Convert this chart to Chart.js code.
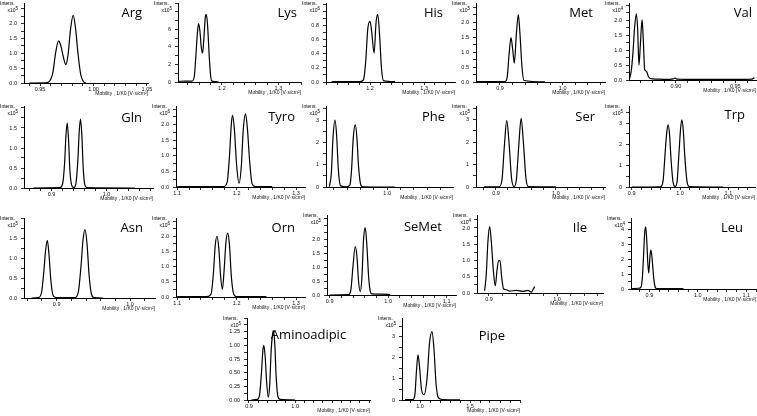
<!DOCTYPE html>
<html><head><meta charset="utf-8">
<script src="https://cdn.jsdelivr.net/npm/chart.js@4"></script>
<style>
html,body{margin:0;padding:0;background:#fff;width:757px;height:416px;overflow:hidden;position:relative}
canvas{position:absolute}
</style></head><body>
<script>
// ---------------- data ----------------
const panelNames = ['Arg','Lys','His','Met','Val','Gln','Tyro','Phe','Ser','Trp','Asn','Orn','SeMet','Ile','Leu','Aminoadipic','Pipe'];
const intensExp  = ['5','5','6','5','4','5','6','5','5','5','5','6','5','4','4','5','5'];
const xMin = [0.935,1.1224,1.1185,0.8617,0.8605,0.8497,1.098,0.908,0.8667,0.8945,0.8555,1.098,0.8955,0.8824,0.862,0.8957,0.82];
const xMax = [1.051,1.340,1.357,1.0676,0.9675,1.0848,1.315,1.099,1.082,1.155,1.034,1.315,1.116,1.0676,1.12,1.162,2.0];
const yMax = [2.7,9.0,1.12,2.64,2.58,2.05,2.6,3.63,3.6,3.8,2.0,2.6,2.87,2.4,4.78,1.5,3.9];
const xTickLabels = [
  ['0.95','1.00','1.05'],['1.2','1.3'],['1.2','1.3'],['0.9','1.0'],['0.90','0.95'],
  ['0.9','1.0'],['1.1','1.2','1.3'],['1.0'],['0.9','1.0'],['0.9','1.0','1.1'],
  ['0.9','1.0'],['1.1','1.2','1.3'],['0.9','1.0','1.1'],['0.9','1.0'],['0.9','1.0','1.1'],
  ['0.9','1.0'],['1.0','1.5']
];
const yTickLabels = [
  ['0.0','0.5','1.0','1.5','2.0'],['0','2','4','6'],['0.0','0.2','0.4','0.6','0.8'],['0.0','0.5','1.0','1.5','2.0'],['0.0','0.5','1.0','1.5','2.0'],
  ['0.0','0.5','1.0','1.5'],['0.0','0.5','1.0','1.5','2.0'],['0','1','2','3'],['0','1','2','3'],['0','1','2','3'],
  ['0.0','0.5','1.0','1.5'],['0.0','0.5','1.0','1.5','2.0'],['0.0','0.5','1.0','1.5','2.0'],['0.0','0.5','1.0','1.5','2.0'],['0','1','2','3','4'],
  ['0.00','0.25','0.50','0.75','1.00','1.25'],['0','1','2','3']
];
const xMinorStep = [0.01,0.02,0.02,0.02,0.01,0.02,0.02,0.02,0.02,0.02,0.02,0.02,0.02,0.02,0.02,0.02,0.1];
const yMinorStep = [0.25,1,0.1,0.25,0.25,0.25,0.25,0.5,0.5,0.5,0.25,0.25,0.25,0.25,0.5,0.125,0.5];

const argTrace = [[0.94,0],[0.955,0.005],[0.958,0.03],[0.962,0.35],[0.9645,1.0],[0.9673,1.42],[0.9695,1.25],[0.972,0.85],[0.9741,0.62],[0.9762,0.95],[0.9785,1.8],[0.981,2.28],[0.9832,1.85],[0.9855,1.0],[0.988,0.3],[0.9905,0.05],[0.993,0]];
const lysTrace = [[1.1224,0.08],[1.1353,0.1],[1.147,0.1],[1.1512,0.6],[1.154,3.0],[1.157,5.8],[1.1588,6.65],[1.1612,5.8],[1.1635,4.0],[1.1659,3.3],[1.1682,5.0],[1.1706,7.3],[1.1724,7.7],[1.1747,6.5],[1.1776,3.0],[1.18,0.8],[1.1824,0.1],[1.188,0.05],[1.194,0]];
const hisTrace = [[1.129,0.005],[1.1815,0.005],[1.1877,0.03],[1.192,0.3],[1.1957,0.75],[1.2,0.86],[1.2031,0.7],[1.2074,0.41],[1.2111,0.85],[1.2142,0.96],[1.2173,0.7],[1.221,0.2],[1.2247,0.02],[1.2463,0.005]];
const metTrace = [[0.8628,0.01],[0.908,0.01],[0.9117,0.2],[0.9144,0.9],[0.9176,1.48],[0.9202,1.1],[0.9229,0.63],[0.9261,1.6],[0.9293,2.25],[0.9319,1.6],[0.9351,0.5],[0.9383,0.05],[0.9718,0.005]];
const valTrace = [[0.861,0.05],[0.8624,0.3],[0.8638,0.9],[0.8653,1.8],[0.8667,2.22],[0.8678,1.7],[0.8689,0.5],[0.8701,1.2],[0.8715,2.02],[0.8726,1.3],[0.8737,0.35],[0.8749,0.3],[0.8757,0.25],[0.8768,0.12],[0.8785,0.05],[0.8836,0.03],[0.8921,0.02],[0.8977,0.04],[0.8994,0.06],[0.9011,0.03],[0.9203,0.02],[0.9486,0.02],[0.9641,0.03],[0.9661,0.08]];
const glnTrace = [[0.8667,0],[0.9152,0.01],[0.92,0.1],[0.9236,0.6],[0.9261,1.3],[0.9285,1.63],[0.9309,1.2],[0.9333,0.45],[0.9364,0.08],[0.9406,0.01],[0.9442,0.1],[0.9479,0.7],[0.9503,1.4],[0.9527,1.72],[0.9552,1.3],[0.9576,0.5],[0.9606,0.08],[0.9648,0.01],[1.0515,0]];
const tyroTrace = [[1.100,0.01],[1.150,0.01],[1.178,0.01],[1.184,0.15],[1.188,1.0],[1.191,2.0],[1.193,2.3],[1.196,1.9],[1.200,0.7],[1.204,0.12],[1.208,0.7],[1.211,1.8],[1.215,2.35],[1.218,1.9],[1.222,0.8],[1.226,0.1],[1.232,0.01],[1.260,0.01]];
const pheTrace = [[0.913,0.02],[0.916,0.6],[0.9185,2.2],[0.9215,3.0],[0.924,2.3],[0.9265,0.8],[0.93,0.05],[0.939,0.01],[0.944,0.1],[0.9465,0.8],[0.949,2.2],[0.952,2.78],[0.9545,2.2],[0.957,0.9],[0.9605,0.08],[0.964,0.01],[1.0115,0]];
const serTrace = [[0.880,0.01],[0.905,0.01],[0.910,0.3],[0.914,1.8],[0.918,2.95],[0.922,1.9],[0.926,0.4],[0.930,0.02],[0.934,0.3],[0.938,1.8],[0.942,3.05],[0.946,1.9],[0.950,0.4],[0.954,0.02],[1.000,0.01]];
const trpTrace = [[0.9,0],[0.9595,0.01],[0.965,0.3],[0.9692,1.6],[0.9727,2.6],[0.9754,2.92],[0.9782,2.5],[0.9817,1.2],[0.9858,0.2],[0.99,0.02],[0.9941,0.3],[0.9976,1.5],[1.001,2.7],[1.0038,3.15],[1.0066,2.7],[1.01,1.4],[1.0142,0.3],[1.019,0.02],[1.0896,0]];
const asnTrace = [[0.8659,0],[0.875,0.01],[0.8795,0.15],[0.8827,0.7],[0.885,1.2],[0.8873,1.44],[0.8895,1.1],[0.8923,0.4],[0.8955,0.05],[0.9,0.01],[0.925,0.01],[0.9295,0.15],[0.9332,0.8],[0.9359,1.45],[0.9386,1.71],[0.9414,1.35],[0.9441,0.6],[0.9473,0.1],[0.9509,0.01],[0.9636,0]];
const ornTrace = [[1.100,0.01],[1.150,0.01],[1.157,0.1],[1.161,0.8],[1.164,1.7],[1.167,2.0],[1.170,1.6],[1.173,0.7],[1.176,0.25],[1.179,0.9],[1.182,1.8],[1.185,2.1],[1.188,1.7],[1.191,0.7],[1.195,0.1],[1.200,0.01],[1.250,0.01]];
const semetTrace = [[0.9,0],[0.9324,0.01],[0.9364,0.2],[0.9398,1.0],[0.9438,1.74],[0.9466,1.4],[0.9494,0.5],[0.9523,0.12],[0.9551,0.6],[0.958,2.0],[0.9608,2.42],[0.9636,1.8],[0.9665,0.7],[0.9693,0.15],[0.9722,0.04],[0.9864,0.03],[1.0006,0.02],[1.0034,0.01]];
const ileTrace = [[0.8936,0.07],[0.8961,0.6],[0.8985,1.6],[0.901,2.04],[0.9034,1.6],[0.9064,0.7],[0.9093,0.22],[0.9118,0.7],[0.9142,1.0],[0.9162,1.0],[0.9186,0.5],[0.9216,0.12],[0.9255,0.1],[0.9304,0.06],[0.9402,0.08],[0.95,0.05],[0.9574,0.08],[0.9623,0.03],[0.9647,0.1],[0.9672,0.2]];
const leuTrace = [[0.8634,0.02],[0.8772,0.05],[0.8821,0.1],[0.8855,0.8],[0.8883,2.5],[0.8903,3.8],[0.8924,4.18],[0.8945,3.3],[0.8966,1.8],[0.8986,1.07],[0.9014,2.3],[0.9034,2.62],[0.9062,1.8],[0.909,0.7],[0.9117,0.15],[0.9152,0.02],[0.9703,0.02]];
const aminoTrace = [[0.905,0],[0.918,0.01],[0.923,0.1],[0.927,0.5],[0.930,0.9],[0.932,1.0],[0.935,0.8],[0.938,0.35],[0.942,0.05],[0.945,0.3],[0.948,0.9],[0.951,1.2],[0.953,1.27],[0.956,1.0],[0.959,0.4],[0.963,0.05],[0.968,0.01],[1.0,0]];
const pipeTrace = [[0.85,0.02],[0.93,0.02],[0.95,0.3],[0.965,1.4],[0.98,2.15],[0.995,1.6],[1.015,0.5],[1.04,0.25],[1.07,1.0],[1.095,2.7],[1.12,3.25],[1.14,2.4],[1.16,0.8],[1.185,0.1],[1.23,0.02],[1.4,0.01]];

const traces = [argTrace,lysTrace,hisTrace,metTrace,valTrace,glnTrace,tyroTrace,pheTrace,serTrace,trpTrace,asnTrace,ornTrace,semetTrace,ileTrace,leuTrace,aminoTrace,pipeTrace];

// ---------------- layout (page pixels) ----------------
// axisX, plotTop, plotBottom, plotRight, nameInsetRight (null = centred), nameTop
const panelLayout = [
  [24,3,83,148,6,5],[178,3,82,301,4,5],[326,3,82,455,12,5],[476,3,82,605,12,5],[629,3,80,756,4,5],
  [24,106,188,153,11,7],[176,106,187,305,10,6],[326,106,187,453,8,6],[476,106,187,605,10,6],[629,106,187,755,10,4],
  [24,218,298,155,12,5],[176,218,297,305,10,5],[327,215,295,456,14,7],[477,215,293,603,16,8],[631,218,289,756,13,5],
  [247,318,400,370,null,12],[402,318,400,520,15,13]
];

const FONT = '"Liberation Sans", Arial, sans-serif';
const YAXW = 26, XAXH = 14.5, PADT = 4, PADR = 8;

function makeTicks(min, max, step){
  const out = [];
  const s = Math.ceil(min/step - 1e-6);
  for (let k = s; k*step <= max + 1e-9; k++) out.push(+(k*step).toFixed(6));
  return out;
}
function labelFor(v, labels){
  const l = labels.find(t => Math.abs(parseFloat(t) - v) < 1e-6);
  return l === undefined ? '' : l;
}

const panelText = {
  id: 'panelText',
  afterDraw(chart, args, o){
    const {ctx, chartArea:a} = chart;
    ctx.save();
    ctx.fillStyle = '#000';
    ctx.textBaseline = 'alphabetic';
    ctx.textAlign = 'right';
    ctx.font = '5px ' + FONT;
    ctx.fillText('Intens.', a.left - 9, a.top + 1.5);
    ctx.font = '4.5px ' + FONT;
    const ew = ctx.measureText(o.exp).width;
    ctx.fillText(o.exp, a.left - 6, a.top + 6.5);
    ctx.font = '5px ' + FONT;
    ctx.fillText('x10', a.left - 6 - ew, a.top + 9);
    ctx.font = '13px "Open Sans", sans-serif';
    if (o.inset == null){
      ctx.textAlign = 'center';
      ctx.fillText(o.name, (a.left + a.right)/2, a.top + o.nameTop + 9.3);
    } else {
      ctx.fillText(o.name, a.right - o.inset, a.top + o.nameTop + 9.3);
    }
    ctx.restore();
  }
};

panelLayout.forEach((L, i) => {
  const [axisX, top, bottom, right, inset, nameTop] = L;
  const W = right - axisX + YAXW + PADR, H = Math.ceil(bottom - top + PADT + XAXH);
  const cv = document.createElement('canvas');
  cv.width = W; cv.height = H;
  cv.style.left = (axisX - YAXW) + 'px'; cv.style.top = (top - PADT) + 'px';
  cv.style.width = W + 'px'; cv.style.height = H + 'px';
  document.body.appendChild(cv);
  const extraB = H - (bottom - top + PADT + XAXH);
  const gridOpts = {display:true, drawOnChartArea:false, drawTicks:true, tickLength:3, color:'#000', lineWidth:0.8};
  const borderOpts = {display:true, color:'#000', width:1};
  new Chart(cv, {
    type: 'line',
    data: {datasets: [{
      data: traces[i].map(p => ({x:p[0], y:p[1]})),
      borderColor:'#000', borderWidth:1.2, pointRadius:0, fill:false,
      cubicInterpolationMode:'monotone'
    }]},
    plugins: [panelText],
    options: {
      responsive:false, animation:false, devicePixelRatio:1,
      layout: {padding:{top:PADT, right:PADR, left:0, bottom:extraB}},
      plugins: {
        legend:{display:false}, tooltip:{enabled:false},
        panelText: {name:panelNames[i], exp:intensExp[i], inset:inset, nameTop:nameTop}
      },
      scales: {
        x: {
          type:'linear', min:xMin[i], max:xMax[i],
          afterBuildTicks: s => { s.ticks = makeTicks(xMin[i], xMax[i], xMinorStep[i]).map(v => ({value:v})); },
          afterFit: s => { s.height = XAXH; s.paddingLeft = 0; s.paddingRight = 0; },
          grid: gridOpts, border: borderOpts,
          ticks: {autoSkip:false, maxRotation:0, minRotation:0, padding:0, color:'#111',
                  font:{family:FONT, size:5.5}, callback: v => labelFor(v, xTickLabels[i])},
          title: {display:true, text:'Mobility , 1/K0 [V·s/cm²]', align:'end', color:'#111',
                  font:{family:FONT, size:5}, padding:{top:0, bottom:0.5}}
        },
        y: {
          type:'linear', min:0, max:yMax[i],
          afterBuildTicks: s => { s.ticks = makeTicks(0, yMax[i], yMinorStep[i]).map(v => ({value:v})); },
          afterFit: s => { s.width = YAXW; s.paddingTop = 0; s.paddingBottom = 0; },
          grid: gridOpts, border: borderOpts,
          ticks: {autoSkip:false, padding:4, color:'#111',
                  font:{family:FONT, size:5.5}, callback: v => labelFor(v, yTickLabels[i])}
        }
      }
    }
  });
});
</script>
</body></html>
